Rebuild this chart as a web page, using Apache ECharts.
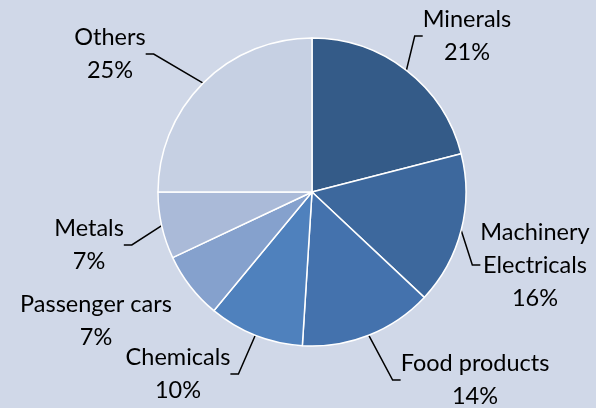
<!DOCTYPE html>
<html><head><meta charset="utf-8">
<script src="https://cdn.jsdelivr.net/npm/echarts@6/dist/echarts.min.js"></script>
<style>html,body{margin:0;padding:0;background:#d0d8e8;}#c{width:596px;height:408px;}</style>
</head><body><div id="c"></div>
<script>
const categories = ['Minerals', 'Machinery\nElectricals', 'Food products', 'Chemicals', 'Passenger cars', 'Metals', 'Others'];
const shares = [21, 16, 14, 10, 7, 7, 25];
const colors = ['#345b88', '#3d689d', '#4472ad', '#4f81bd', '#85a1cd', '#aabad8', '#c6d0e3'];
const labelPos = [[467, 36], [535, 265], [475, 380], [178, 374], [96, 321], [89, 245], [110, 54]];
const showLine = [true, true, true, true, false, true, true];

const chart = echarts.init(document.getElementById('c'));
chart.setOption({
  backgroundColor: '#d0d8e8',
  animation: false,
  series: [{
    type: 'pie',
    center: [312, 192],
    radius: 154,
    startAngle: 90,
    clockwise: true,
    data: categories.map((n, i) => ({
      name: n, value: shares[i],
      itemStyle: { color: colors[i] },
      labelLine: { show: showLine[i] }
    })),
    itemStyle: { borderColor: '#ffffff', borderWidth: 1.5 },
    label: {
      show: true,
      formatter: '{b}\n{c}%',
      fontFamily: 'Lato',
      fontSize: 23.5,
      lineHeight: 33,
      color: '#000000',
      align: 'center',
      overflow: 'none',
      edgeDistance: 0
    },
    labelLine: { show: true, length: 10, length2: 8, lineStyle: { color: '#000000', width: 1.5 } },
    labelLayout: function (p) {
      const pos = labelPos[p.dataIndex];
      return { x: pos[0], y: pos[1], align: 'center', verticalAlign: 'middle' };
    }
  }]
});
</script></body></html>
